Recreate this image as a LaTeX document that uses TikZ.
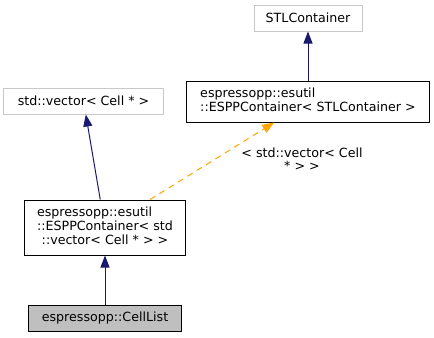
\documentclass[tikz,border=0pt]{standalone}
\usepackage{fontspec}
\setmainfont{DejaVu Sans}
\usetikzlibrary{arrows.meta}
\definecolor{boxgrey}{HTML}{BFBFBF}
\definecolor{lightedge}{HTML}{C8C8C8}
\definecolor{edgeblue}{HTML}{191970}
\definecolor{tmplorange}{HTML}{FFA500}
\tikzset{
  cls/.style={draw=black, line width=1bp, inner sep=0pt, fill=white,
    font=\fontsize{12.7}{14.3}\selectfont},
  extcls/.style={cls, draw=lightedge},
  selfcls/.style={cls, fill=boxgrey},
  inherit/.style={draw=edgeblue, line width=1bp,
    -{Triangle[length=12bp, width=9bp, fill=edgeblue]}},
  instance/.style={draw=tmplorange, line width=1bp, dash pattern=on 6bp off 5bp,
    -{Triangle[length=12bp, width=9bp, fill=tmplorange]}},
  edgelabel/.style={inner sep=0pt, align=center,
    font=\fontsize{12.7}{13.3}\selectfont}
}
\begin{document}
\begin{tikzpicture}[x=1bp, y=1bp]
  \useasboundingbox (0,0) rectangle (434,-337);

  % classes
  \node[extcls, minimum width=108bp, minimum height=26bp] (stl) at (308,-18) {STLContainer};
  \node[cls, minimum width=243bp, minimum height=41bp] (espp) at (308,-101.5)
    {\begin{tabular}{@{}l@{}}espressopp::esutil\\
      \multicolumn{1}{@{}c@{}}{::ESPPContainer< STLContainer >}\end{tabular}};
  \node[extcls, minimum width=159bp, minimum height=26bp] (vec) at (83.5,-101) {std::vector< Cell * >};
  \node[cls, minimum width=160bp, minimum height=55bp] (esppv) at (105,-227.5)
    {\begin{tabular}{@{}l@{}}espressopp::esutil\\
      ::ESPPContainer< std\\
      \multicolumn{1}{@{}c@{}}{::vector< Cell * > >}\end{tabular}};
  \node[selfcls, minimum width=152bp, minimum height=26bp] (cell) at (105,-318) {espressopp::CellList};

  % relations
  \draw[inherit] (espp.north) -- (stl.south);
  \draw[inherit] (esppv) -- (vec);
  \draw[instance] (esppv) -- (espp);
  \draw[inherit] (cell.north) -- (esppv.south);

  \node[edgelabel] (tmpl) at (302,-159.5) {< std::vector< Cell\\* > >};
\end{tikzpicture}
\end{document}
